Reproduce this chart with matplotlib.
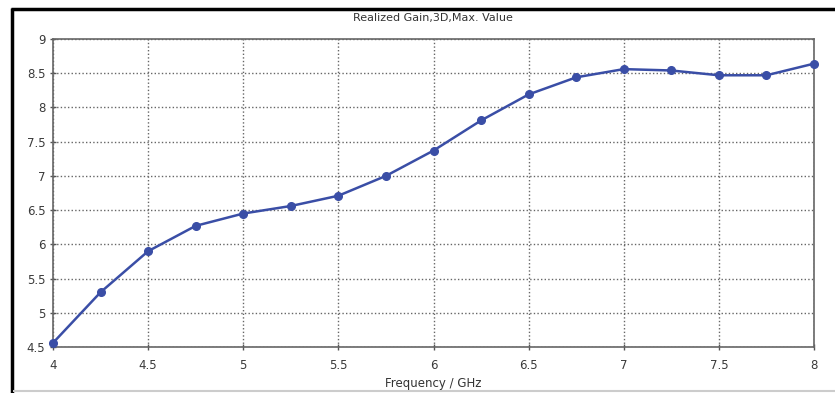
import numpy as np
import matplotlib
matplotlib.use('Agg')
import matplotlib.pyplot as plt
from matplotlib.lines import Line2D

# frequency sweep / realized gain
freq = [4.0, 4.25, 4.5, 4.75, 5.0, 5.25, 5.5, 5.75, 6.0, 6.25, 6.5, 6.75, 7.0, 7.25, 7.5, 7.75, 8.0]
gain = [4.56, 5.30, 5.90, 6.27, 6.45, 6.56, 6.71, 7.00, 7.37, 7.81, 8.19, 8.44, 8.56, 8.54, 8.47, 8.47, 8.64]

xticks = [4, 4.5, 5, 5.5, 6, 6.5, 7, 7.5, 8]
xticklabels = ['4', '4.5', '5', '5.5', '6', '6.5', '7', '7.5', '8']
yticks = [4.5, 5, 5.5, 6, 6.5, 7, 7.5, 8, 8.5, 9]
yticklabels = ['4.5', '5', '5.5', '6', '6.5', '7', '7.5', '8', '8.5', '9']

W, H = 835, 393
fig = plt.figure(figsize=(W/100, H/100), dpi=100)
ax = fig.add_axes([53/W, 1 - 347/H, (814 - 53)/W, (347 - 39)/H])

ax.plot(freq, gain, color='#3a4ea6', linewidth=1.8, marker='o', markersize=5.5, clip_on=False, zorder=3)

ax.set_xlim(4, 8)
ax.set_ylim(4.5, 9)
ax.set_xticks(xticks)
ax.set_xticklabels(xticklabels)
ax.set_yticks(yticks)
ax.set_yticklabels(yticklabels)
ax.grid(True, linestyle=(0, (1, 1.6)), color='#666666', linewidth=1.0)
ax.tick_params(direction='inout', length=5, width=1, color='#555555',
               labelsize=8.5, labelcolor='#3a3a3a')
ax.tick_params(axis='x', pad=6)
ax.tick_params(axis='y', pad=3)
for s in ax.spines.values():
    s.set_color('#666666')
    s.set_linewidth(1.2)

fig.text(433/W, 1 - 18/H, 'Realized Gain,3D,Max. Value', ha='center', va='center',
         fontsize=8, color='#333333')
fig.text(433/W, 1 - 383/H, 'Frequency / GHz', ha='center', va='center',
         fontsize=8.5, color='#333333')

# outer frame (top and left black, bottom light grey)
fig.add_artist(Line2D([11/W, 1], [1 - 8.5/H, 1 - 8.5/H], transform=fig.transFigure,
                      color='black', linewidth=2.5, solid_capstyle='butt'))
fig.add_artist(Line2D([11.5/W, 11.5/W], [0, 1 - 7.5/H], transform=fig.transFigure,
                      color='black', linewidth=2.5, solid_capstyle='butt'))
fig.add_artist(Line2D([13/W, 1], [1 - 391/H, 1 - 391/H], transform=fig.transFigure,
                      color='#cccccc', linewidth=1.5, solid_capstyle='butt'))

fig.savefig('out.png', dpi=100)
